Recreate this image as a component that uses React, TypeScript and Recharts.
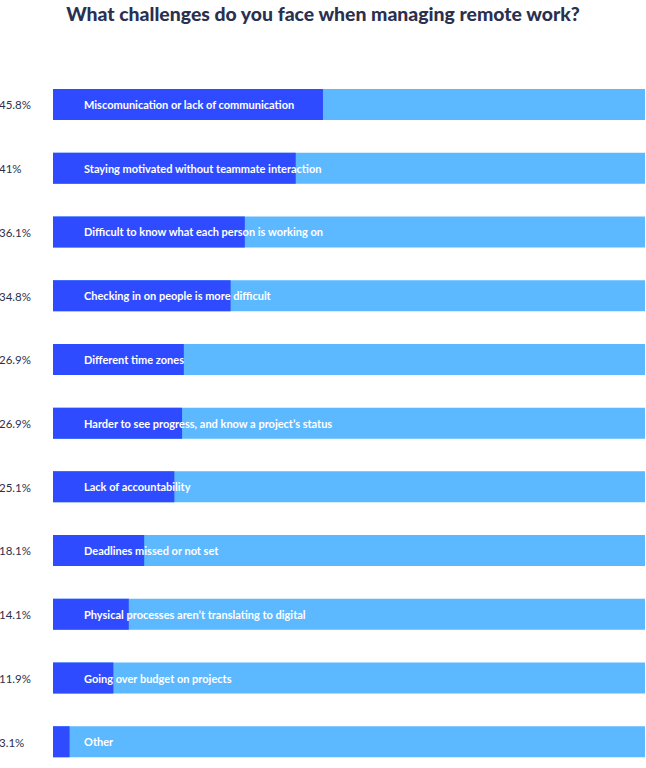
import { BarChart, Bar, XAxis, YAxis, LabelList } from "recharts";

const categories = [
  "Miscomunication or lack of communication",
  "Staying motivated without teammate interaction",
  "Difficult to know what each person is working on",
  "Checking in on people is more difficult",
  "Different time zones",
  "Harder to see progress, and know a project’s status",
  "Lack of accountability",
  "Deadlines missed or not set",
  "Physical processes aren’t translating to digital",
  "Going over budget on projects",
  "Other",
];

// bar lengths as drawn in the picture (share of full track)
const values = [45.6, 41.0, 32.4, 30.0, 22.1, 21.8, 20.5, 15.4, 12.8, 10.2, 2.8];

const pctLabels = ["45.8%", "41%", "36.1%", "34.8%", "26.9%", "26.9%", "25.1%", "18.1%", "14.1%", "11.9%", "3.1%"];

const data = categories.map((name, i) => ({ name, value: values[i], pct: pctLabels[i] }));

const FONT = "Lato, 'Noto Sans', sans-serif";
const DARK = "#2f4bff";
const LIGHT = "#5cb9ff";
const NAVY = "#2a3050";

const PctTick = (props: any) => {
  const { y, payload } = props;
  return (
    <text x={-1} y={y} dy={4.5} textAnchor="start" fill={NAVY} fontSize={11.5} fontFamily={FONT}>
      {payload.value}
    </text>
  );
};

const NameLabel = (props: any) => {
  const { x, y, height, index } = props;
  return (
    <text
      x={x + 31}
      y={y + height / 2}
      dy={4.5}
      fill="#ffffff"
      fontSize={11}
      fontWeight={700}
      fontFamily={FONT}
    >
      {categories[index]}
    </text>
  );
};

export default function App() {
  return (
    <div style={{ position: "absolute", left: 0, top: 0, width: 646, height: 774, background: "#fff" }}>
      <div
        style={{
          position: "absolute",
          left: 0,
          top: 0,
          width: 646,
          textAlign: "center",
          fontFamily: FONT,
          fontWeight: 900,
          fontSize: 19.4,
          lineHeight: "28px",
          color: NAVY,
        }}
      >
        What challenges do you face when managing remote work?
      </div>
      <BarChart
        width={646}
        height={774}
        data={data}
        layout="vertical"
        margin={{ top: 73, right: 1, left: 0, bottom: 0 }}
      >
        <XAxis type="number" domain={[0, 100]} hide />
        <YAxis
          type="category"
          dataKey="pct"
          width={53}
          axisLine={false}
          tickLine={false}
          tick={<PctTick />}
          interval={0}
        />
        <Bar
          dataKey="value"
          fill={DARK}
          barSize={31}
          background={{ fill: LIGHT }}
          isAnimationActive={false}
        >
          <LabelList dataKey="name" content={<NameLabel />} />
        </Bar>
      </BarChart>
    </div>
  );
}
